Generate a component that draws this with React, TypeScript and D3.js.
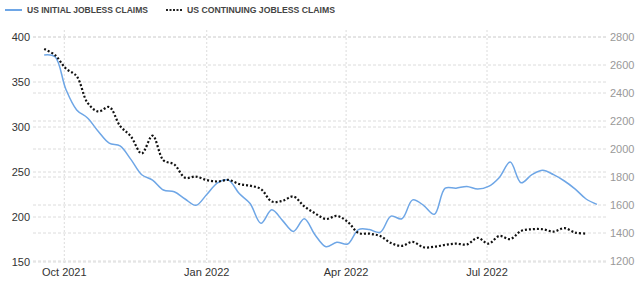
import React from "react";
import * as d3 from "d3";

const initialClaims = [
  380, 378, 342, 319, 310, 295, 282, 279, 264, 247, 241, 230, 228, 220, 213, 225,
  238, 241, 226, 215, 193, 208, 196, 184, 198, 180, 167, 172, 170, 186, 186, 183,
  201, 198, 219, 213, 203, 232, 232, 234, 231, 234, 244, 261, 238, 247, 252, 247,
  240, 231, 220, 214,
];
const continuingClaims = [
  2714, 2671, 2575, 2520, 2330, 2268, 2300, 2165, 2090, 1968, 2095, 1920, 1890, 1795,
  1803, 1778, 1768, 1779, 1750, 1738, 1714, 1625, 1630, 1661, 1590, 1540, 1500, 1522,
  1480, 1400, 1395, 1378, 1328, 1308, 1336, 1298, 1302, 1315, 1324, 1318, 1365, 1324,
  1379, 1356, 1415, 1427, 1427, 1410, 1435, 1403, 1396,
];
const firstWeek = new Date(2021, 8, 18);
const leftTicks = [150, 200, 250, 300, 350, 400];
const rightTicks = [1200, 1400, 1600, 1800, 2000, 2200, 2400, 2600, 2800];
const xTicks = [
  { date: new Date(2021, 9, 1), label: "Oct 2021" },
  { date: new Date(2022, 0, 1), label: "Jan 2022" },
  { date: new Date(2022, 3, 1), label: "Apr 2022" },
  { date: new Date(2022, 6, 1), label: "Jul 2022" },
];
const seriesNames = ["US INITIAL JOBLESS CLAIMS", "US CONTINUING JOBLESS CLAIMS"];

const W = 640;
const H = 283;
const plotLeft = 33;
const plotRight = 607;

export default function App() {
  const x = d3
    .scaleTime()
    .domain([new Date(2021, 9, 1), new Date(2022, 6, 1)])
    .range([64.3, 487]);
  const yL = d3.scaleLinear().domain([150, 400]).range([262, 37]);
  const yR = d3.scaleLinear().domain([1200, 2800]).range([261, 37]);

  const dates = (n: number) => d3.range(n).map((i) => d3.timeWeek.offset(firstWeek, i));
  const dI = dates(initialClaims.length);
  const dC = dates(continuingClaims.length);

  const lineI = d3
    .line<number>()
    .x((_, i) => x(dI[i]))
    .y((v) => yL(v))
    .curve(d3.curveCatmullRom.alpha(0.5));
  const lineC = d3
    .line<number>()
    .x((_, i) => x(dC[i]))
    .y((v) => yR(v))
    .curve(d3.curveCatmullRom.alpha(0.5));

  const font = "'Liberation Sans', Arial, sans-serif";
  const grid = "#dcdcdc";

  return (
    <svg
      width={W}
      height={H}
      style={{ position: "absolute", left: 0, top: 0, background: "#fff" }}
      fontFamily={font}
    >
      <rect width={W} height={H} fill="#fff" />
      {/* legend */}
      <line x1={5} x2={22} y1={10} y2={10} stroke="#6ea6e6" strokeWidth={2} />
      <text x={27} y={13} fontSize={8.5} fontWeight={600} fill="#444" textLength={121} lengthAdjust="spacingAndGlyphs">
        {seriesNames[0]}
      </text>
      <line x1={166} x2={182} y1={10} y2={10} stroke="#222" strokeWidth={2} strokeDasharray="2,1.5" />
      <text x={187} y={13} fontSize={8.5} fontWeight={600} fill="#444" textLength={148} lengthAdjust="spacingAndGlyphs">
        {seriesNames[1]}
      </text>

      {/* grid */}
      {leftTicks.map((t) => (
        <line key={"gl" + t} x1={plotLeft} x2={plotRight} y1={yL(t)} y2={yL(t)} stroke={grid} strokeDasharray="3,2" />
      ))}
      {rightTicks.map((t) => (
        <line key={"gr" + t} x1={plotLeft} x2={plotRight} y1={yR(t)} y2={yR(t)} stroke={grid} strokeDasharray="3,2" />
      ))}
      {xTicks.map((t) => (
        <line key={"gx" + t.label} x1={x(t.date)} x2={x(t.date)} y1={30} y2={263} stroke={grid} strokeDasharray="2,2" />
      ))}

      {/* axis labels */}
      {leftTicks.map((t) => (
        <text key={"l" + t} x={30} y={yL(t) + 4} fontSize={11} fill="#333" textAnchor="end">
          {t}
        </text>
      ))}
      {rightTicks.map((t) => (
        <text key={"r" + t} x={610} y={yR(t) + 4} fontSize={11} fill="#999" textAnchor="start">
          {t}
        </text>
      ))}
      {xTicks.map((t) => (
        <text key={"x" + t.label} x={x(t.date)} y={276} fontSize={11} fill="#333" textAnchor="middle">
          {t.label}
        </text>
      ))}

      {/* series */}
      <path d={lineI(initialClaims) || ""} fill="none" stroke="#6ea6e6" strokeWidth={1.5} />
      <path d={lineC(continuingClaims) || ""} fill="none" stroke="#111" strokeWidth={2.2} strokeDasharray="2,2" />
    </svg>
  );
}
